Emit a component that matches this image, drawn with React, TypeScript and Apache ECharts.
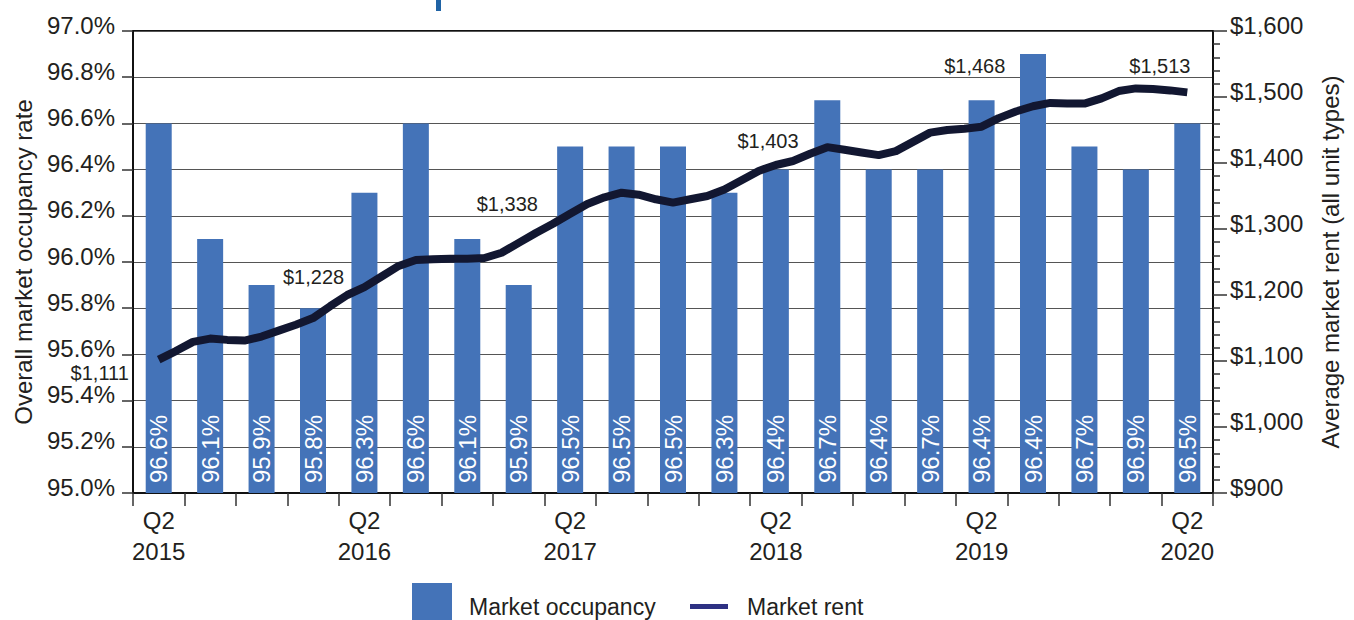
import React, { useEffect, useRef } from "react";
import * as echarts from "echarts";

const quarters = [
  "Q2 2015", "Q3 2015", "Q4 2015", "Q1 2016",
  "Q2 2016", "Q3 2016", "Q4 2016", "Q1 2017",
  "Q2 2017", "Q3 2017", "Q4 2017", "Q1 2018",
  "Q2 2018", "Q3 2018", "Q4 2018", "Q1 2019",
  "Q2 2019", "Q3 2019", "Q4 2019", "Q1 2020",
  "Q2 2020",
];

const occupancy = [
  96.6, 96.1, 95.9, 95.8, 96.3, 96.6, 96.1, 95.9, 96.5, 96.5, 96.5,
  96.3, 96.4, 96.7, 96.4, 96.4, 96.7, 96.9, 96.5, 96.4, 96.6,
];

const occupancyLabels = [
  "96.6%", "96.1%", "95.9%", "95.8%", "96.3%", "96.6%", "96.1%", "95.9%",
  "96.5%", "96.5%", "96.5%", "96.3%", "96.4%", "96.7%", "96.4%", "96.7%",
  "96.4%", "96.4%", "96.7%", "96.9%", "96.5%",
];

// monthly market rent, June 2015 .. June 2020
const rentMonthly = [
  1102, 1115, 1129, 1134, 1132, 1131, 1137, 1146, 1155, 1165, 1183, 1200,
  1212, 1228, 1244, 1253, 1254, 1255, 1255, 1256, 1264, 1279, 1294, 1308,
  1323, 1338, 1348, 1355, 1352, 1345, 1340, 1345, 1350, 1360, 1374, 1388,
  1397, 1403, 1414, 1424, 1420, 1416, 1412, 1418, 1432, 1446, 1450, 1452,
  1455, 1468, 1478, 1486, 1491, 1490, 1490, 1498, 1509, 1513, 1512, 1510,
  1507,
];

const rentLabelMonths = [0, 13, 25, 37, 49, 57];
const rentLabelTexts = ["$1,111", "$1,228", "$1,338", "$1,403", "$1,468", "$1,513"];

const FONT = "'Liberation Sans', Arial, Helvetica, sans-serif";
const TEXT = "#231f20";

export default function App() {
  const ref = useRef<HTMLDivElement>(null);

  useEffect(() => {
    if (!ref.current) return;
    const chart = echarts.init(ref.current, null, { renderer: "svg" });
    const labelOffsets = [
      [-59, 13],
      [-68, 0],
      [-80, 0],
      [-25, -20],
      [-24, -52],
      [24, -22],
    ];
    const option: any = {
      animation: false,
      textStyle: { fontFamily: FONT, color: TEXT },
      grid: {
        left: 133,
        right: 141,
        top: 31,
        bottom: 127,
        show: true,
        borderColor: "#111",
        borderWidth: 2,
        backgroundColor: "transparent",
      },
      graphic: [
        { type: "rect", left: 436, top: 0, shape: { width: 5, height: 11 }, style: { fill: "#1f63a5" } },
      ],
      legend: [
        {
          data: ["Market occupancy"],
          left: 407,
          top: 578,
          itemWidth: 40,
          itemHeight: 40,
          icon: "rect",
          formatter: (n: string) => "{a|" + n + "}",
          textStyle: {
            fontSize: 23,
            color: TEXT,
            fontFamily: FONT,
            rich: { a: { fontSize: 23, color: TEXT, fontFamily: FONT, padding: [8, 0, 0, 12] } },
          },
        },
        {
          data: [{ name: "Market rent", icon: "rect", itemStyle: { color: "#2e3183" } }],
          left: 685,
          top: 590,
          itemWidth: 38,
          itemHeight: 5,
          textStyle: { fontSize: 23, color: TEXT, fontFamily: FONT, padding: [6, 0, 0, 14] },
        },
      ],
      xAxis: [
        {
          type: "category",
          data: quarters,
          boundaryGap: true,
          axisLine: { onZero: false, lineStyle: { color: "#111", width: 2 } },
          axisTick: { show: true, interval: 0, length: 13, lineStyle: { color: "#333", width: 1.5 } },
          axisLabel: {
            interval: 0,
            formatter: (v: string) => (v.startsWith("Q2") ? v.replace(" ", "\n") : ""),
            fontSize: 24,
            lineHeight: 31,
            color: TEXT,
            fontFamily: FONT,
            margin: 12,
          },
        },
        { type: "value", min: -1.5, max: 61.5, show: false, axisLine: { onZero: false } },
      ],
      yAxis: [
        {
          type: "value",
          position: "left",
          min: 95,
          max: 97,
          interval: 0.2,
          axisLine: { show: true, onZero: false, lineStyle: { color: "#111", width: 2 } },
          axisTick: { show: true, length: 11, lineStyle: { color: "#333", width: 1.5 } },
          axisLabel: {
            formatter: (v: number) => v.toFixed(1) + "%",
            fontSize: 24,
            color: TEXT,
            fontFamily: FONT,
            margin: 18,
            verticalAlign: "bottom",
            lineHeight: 12,
          },
          splitLine: { show: true, lineStyle: { color: "#555", width: 1.2 } },
          name: "Overall market occupancy rate",
          nameLocation: "middle",
          nameGap: 98,
          nameTextStyle: { fontSize: 24, color: TEXT, fontFamily: FONT },
        },
        {
          type: "value",
          position: "right",
          min: 900,
          max: 1600,
          interval: 100,
          axisLine: { show: true, onZero: false, lineStyle: { color: "#111", width: 2 } },
          axisTick: { show: true, length: 14, lineStyle: { color: "#333", width: 1.5 } },
          minorTick: { show: true, splitNumber: 5, length: 7, lineStyle: { color: "#333", width: 1.5 } },
          splitLine: { show: false },
          axisLabel: {
            formatter: (v: number) => "$" + v.toLocaleString("en-US"),
            fontSize: 24,
            color: TEXT,
            fontFamily: FONT,
            margin: 17,
            verticalAlign: "bottom",
            lineHeight: 12,
          },
          name: "Average market rent (all unit types)",
          nameLocation: "middle",
          nameGap: 105,
          nameTextStyle: { fontSize: 24, color: TEXT, fontFamily: FONT },
        },
      ],
      series: [
        {
          name: "Market occupancy",
          type: "bar",
          xAxisIndex: 0,
          yAxisIndex: 0,
          data: occupancy,
          barWidth: 26,
          itemStyle: { color: "#4473b8" },
          label: {
            show: true,
            position: "insideBottom",
            rotate: 90,
            align: "left",
            verticalAlign: "middle",
            distance: 10,
            color: "#ffffff",
            fontSize: 24,
            fontFamily: FONT,
            formatter: (p: any) => occupancyLabels[p.dataIndex],
          },
          z: 2,
        },
        {
          name: "Market rent",
          type: "line",
          xAxisIndex: 1,
          yAxisIndex: 1,
          data: rentMonthly.map((v, i) => [i, v]),
          symbol: "none",
          showSymbol: false,
          itemStyle: { color: "#121731" },
          lineStyle: { width: 8, color: "#121731", join: "round", cap: "butt" },
          z: 3,
        },
        {
          name: "rent labels",
          type: "scatter",
          xAxisIndex: 1,
          yAxisIndex: 1,
          symbolSize: 1,
          itemStyle: { color: "rgba(0,0,0,0)", opacity: 1 },
          silent: true,
          data: rentLabelMonths.map((m, k) => ({
            value: [m, rentMonthly[m]],
            label: { offset: labelOffsets[k] },
          })),
          label: {
            show: true,
            position: "inside",
            fontSize: 20,
            color: TEXT,
            opacity: 1,
            fontFamily: FONT,
            formatter: (p: any) => rentLabelTexts[p.dataIndex],
          },
          z: 4,
        },
      ],
    };
    chart.setOption(option);
    return () => chart.dispose();
  }, []);

  return (
    <div
      ref={ref}
      style={{ position: "fixed", left: 0, top: 0, width: 1354, height: 620, background: "#fff" }}
    />
  );
}
